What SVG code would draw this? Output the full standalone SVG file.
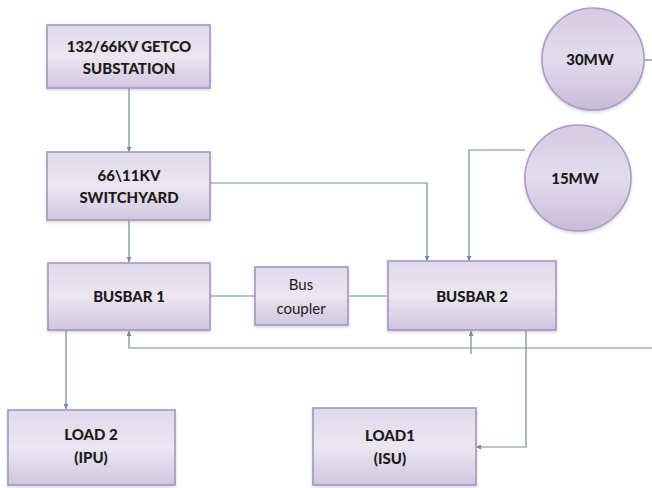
<svg xmlns="http://www.w3.org/2000/svg" width="652" height="488" viewBox="0 0 652 488">
  <style>
    .box { fill: url(#boxgrad); stroke: #a597bd; stroke-width: 1.6; filter: url(#shadow); }
    .circ { fill: url(#circgrad); stroke: #ab9cc4; stroke-width: 1.6; filter: url(#shadow); }
    .lbl { font-family: Lato, "Liberation Sans", sans-serif; font-weight: 900; font-size: 15px; fill: #1b1b1b; text-anchor: middle; }
    .lbln { font-family: Lato, "Liberation Sans", sans-serif; font-weight: normal; font-size: 15px; fill: #1b1b1b; text-anchor: middle; }
    .conn { fill: none; stroke: #6e8ca6; stroke-width: 1.2; }
  </style>
  <defs>
    <linearGradient id="boxgrad" x1="0" y1="0" x2="0" y2="1">
      <stop offset="0" stop-color="#e0d9eb"/>
      <stop offset="0.5" stop-color="#ebe6f1"/>
      <stop offset="1" stop-color="#d0c6df"/>
    </linearGradient>
    <linearGradient id="circgrad" x1="0" y1="0" x2="0" y2="1">
      <stop offset="0" stop-color="#d4cae3"/>
      <stop offset="0.5" stop-color="#e3dcee"/>
      <stop offset="1" stop-color="#c8bbda"/>
    </linearGradient>
    <filter id="shadow" x="-10%" y="-10%" width="120%" height="130%">
      <feDropShadow dx="0" dy="1.5" stdDeviation="1.5" flood-color="#8a7fa0" flood-opacity="0.35"/>
    </filter>
    <marker id="arr" viewBox="0 0 6 6" refX="6" refY="3" markerWidth="5" markerHeight="5" orient="auto" markerUnits="userSpaceOnUse">
      <path d="M0,0 L6,3 L0,6 Z" fill="#6e8ca6"/>
    </marker>
  </defs>
  <rect width="652" height="488" fill="#ffffff"/>

  <g id="connectors">
    <line class="conn" x1="129" y1="88" x2="129" y2="152" marker-end="url(#arr)"/>
    <line class="conn" x1="129" y1="220" x2="129" y2="262" marker-end="url(#arr)"/>
    <polyline class="conn" points="210,183 427,183 427,261" marker-end="url(#arr)"/>
    <polyline class="conn" points="525,150 469,150 469,261" marker-end="url(#arr)"/>
    <line class="conn" x1="210" y1="296" x2="255" y2="296"/>
    <line class="conn" x1="348" y1="296" x2="388" y2="296"/>
    <polyline class="conn" points="652,348 129,348 129,331" marker-end="url(#arr)"/>
    <line class="conn" x1="643" y1="60" x2="652" y2="60"/>
    <line class="conn" x1="471" y1="354" x2="471" y2="331" marker-end="url(#arr)"/>
    <line class="conn" x1="66" y1="330" x2="66" y2="409" marker-end="url(#arr)"/>
    <polyline class="conn" points="526,330 526,447 476,447" marker-end="url(#arr)"/>
  </g>

  <g id="getco">
    <rect class="box" x="47" y="25" width="163" height="63"/>
    <text class="lbl" x="129" y="52">132/66KV GETCO</text>
    <text class="lbl" x="129" y="74">SUBSTATION</text>
  </g>
  <g id="switchyard">
    <rect class="box" x="47" y="152" width="163" height="68"/>
    <text class="lbl" x="129" y="181">66\11KV</text>
    <text class="lbl" x="129" y="203">SWITCHYARD</text>
  </g>
  <g id="busbar1">
    <rect class="box" x="48" y="263" width="162" height="67"/>
    <text class="lbl" x="129" y="302">BUSBAR 1</text>
  </g>
  <g id="buscoupler">
    <rect class="box" x="255" y="267" width="93" height="58"/>
    <text class="lbln" x="301" y="290">Bus</text>
    <text class="lbln" x="301" y="314">coupler</text>
  </g>
  <g id="busbar2">
    <rect class="box" x="388" y="261" width="168" height="69"/>
    <text class="lbl" x="472" y="302">BUSBAR 2</text>
  </g>
  <g id="load2">
    <rect class="box" x="8" y="410" width="167" height="75"/>
    <text class="lbl" x="91" y="440">LOAD 2</text>
    <text class="lbl" x="91" y="463">(IPU)</text>
  </g>
  <g id="load1">
    <rect class="box" x="313" y="408" width="163" height="77"/>
    <text class="lbl" x="390" y="441">LOAD1</text>
    <text class="lbl" x="390" y="464">(ISU)</text>
  </g>
  <g id="gen30">
    <circle class="circ" cx="593" cy="59" r="51"/>
    <text class="lbl" x="590" y="65">30MW</text>
  </g>
  <g id="gen15">
    <circle class="circ" cx="578" cy="178" r="53"/>
    <text class="lbl" x="575" y="184">15MW</text>
  </g>
</svg>
